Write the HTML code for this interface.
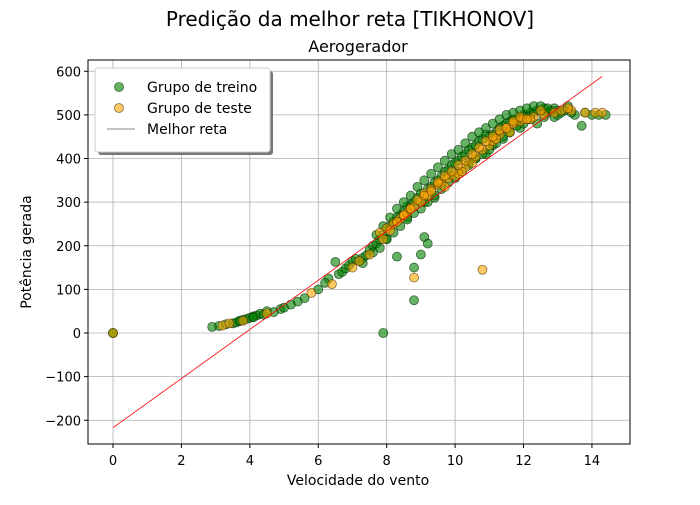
<!DOCTYPE html>
<html><head><meta charset="utf-8"><style>
body{margin:0;background:#fff}
svg{font-family:"DejaVu Sans","Liberation Sans",sans-serif}
</style></head><body>
<svg id="chart" width="700" height="500">
<rect width="700" height="500" fill="#fff"/>
<text x="350" y="26" font-size="20" text-anchor="middle">Predição da melhor reta [TIKHONOV]</text>
<text x="358" y="52" font-size="16" text-anchor="middle">Aerogerador</text>
<g id="grid"></g>
<g id="marks"></g>
<rect x="88" y="60" width="542" height="384" fill="none" stroke="#000" stroke-width="1"/>
<g id="axes"></g>
<text x="358" y="485" font-size="14" text-anchor="middle">Velocidade do vento</text>
<text transform="translate(31,252) rotate(-90)" font-size="14" text-anchor="middle">Potência gerada</text>
<g>
<rect x="98" y="71" width="175" height="84" rx="3" fill="#777"/>
<rect x="95" y="68" width="175" height="84" rx="3" fill="#fff" stroke="#ccc"/>
<circle cx="119" cy="87" r="4.5" fill="rgba(0,128,0,0.6)" stroke="rgba(0,60,0,0.7)" stroke-width="0.8"/>
<text x="147" y="92" font-size="14">Grupo de treino</text>
<circle cx="119" cy="108" r="4.5" fill="rgba(255,165,0,0.6)" stroke="rgba(90,60,0,0.7)" stroke-width="0.8"/>
<text x="147" y="113" font-size="14">Grupo de teste</text>
<line x1="107" y1="129" x2="135" y2="129" stroke="#888" stroke-width="1"/>
<text x="147" y="134" font-size="14">Melhor reta</text>
</g>
</svg>
<script>
const xTicks=[0,2,4,6,8,10,12,14];
const yTicks=[-200,-100,0,100,200,300,400,500,600];
const lineX=[0,14.3];
const lineY=[-217,588];
const trainX=[0,0,2.9,3.1,3.5,3.6,3.7,3.8,3.9,4.0,4.1,4.2,4.3,4.5,4.9,5.0,5.2,5.6,6.3,6.5,6.6,6.7,6.8,6.9,7.0,7.1,7.2,7.3,7.4,7.5,7.6,7.7,7.8,7.9,7.9,8.0,8.1,8.2,8.3,8.3,8.4,8.5,8.6,8.7,8.8,8.8,8.8,8.9,9.0,9.0,9.1,9.2,9.2,9.3,9.4,9.5,9.6,9.7,9.8,9.9,10.0,10.1,10.2,10.3,10.4,10.5,10.6,10.7,10.8,10.9,11.0,11.1,11.2,11.3,11.4,11.5,11.6,11.7,11.8,11.9,12.0,12.1,12.2,12.3,12.4,12.5,12.6,12.7,12.8,12.9,13.0,13.1,13.2,13.3,13.5,13.7,13.8,14.0,14.2,14.4,
8.6,9.1,9.6,10.1,10.6,11.1,11.6,8.0,7.6,7.3,9.4,9.9,10.4,10.9,11.4,11.9,12.4,12.9,
7.7,7.9,8.1,8.3,8.5,8.7,8.9,9.1,9.3,9.5,9.7,9.9,10.1,10.3,10.5,10.7,10.9,11.1,11.3,11.5,11.7,11.9,12.1,12.3,12.5,12.7,
7.8,8.0,8.2,8.4,8.6,8.8,9.0,9.2,9.4,9.6,9.8,10.0,10.2,10.4,10.6,10.8,11.0,11.2,11.4,11.6,11.8,12.0,12.2,12.6,13.0,13.4,
3.3,3.7,4.1,4.4,4.7,5.4,6.0,6.2];
const trainY=[0,0,14,16,22,24,27,30,32,35,38,40,44,50,55,58,65,80,125,163,135,140,148,155,165,170,165,172,178,190,200,205,215,0,225,240,245,255,175,265,270,280,290,295,75,150,300,310,180,320,220,205,330,335,345,350,360,370,375,385,390,395,405,410,420,425,430,440,445,455,450,455,460,470,475,480,485,490,490,495,500,500,505,505,510,510,515,505,510,515,510,505,510,520,500,475,505,500,500,500,265,300,340,370,400,430,460,215,185,160,310,360,390,410,445,470,480,495,
225,245,265,285,300,315,335,350,365,380,395,410,420,435,450,460,470,480,490,500,505,510,515,520,520,515,
195,215,230,245,260,275,285,300,315,330,345,355,370,385,400,410,420,435,450,460,475,480,490,495,500,505,
20,28,36,42,48,72,100,115];
const testX=[0,3.2,3.4,3.8,4.5,5.8,6.4,7.0,7.2,7.5,7.8,8.0,8.2,8.4,8.5,8.6,8.7,8.8,9.0,9.1,9.3,9.5,9.6,9.8,10.0,10.1,10.3,10.5,10.6,10.8,11.0,11.1,11.3,11.5,11.7,11.9,12.0,12.3,12.6,12.9,13.1,13.4,13.8,14.1,8.8,10.8,9.2,9.7,10.2,11.2,11.6,12.2,
7.9,8.1,8.3,8.5,8.7,8.9,9.1,9.3,9.5,9.7,9.9,10.1,10.3,10.5,10.7,10.9,11.1,11.3,11.5,11.7,11.9,12.1,12.5,13.3,14.3];
const testY=[0,17,22,28,45,92,112,150,165,180,230,240,250,262,270,275,285,290,300,320,330,340,348,355,360,365,380,390,405,420,430,440,455,470,480,485,490,495,500,505,510,510,505,505,127,145,315,335,370,445,460,490,
215,235,255,270,285,305,315,325,345,360,370,385,395,410,425,440,450,465,470,485,495,490,510,515,505];
const X0=113,XS=34.21,Y0=333,YS=0.43625;
const sx=v=>X0+v*XS, sy=v=>Y0-v*YS;
const ns="http://www.w3.org/2000/svg";
const grid=document.getElementById('grid'),axes=document.getElementById('axes'),marks=document.getElementById('marks');
function mk(tag,at,parent){const e=document.createElementNS(ns,tag);for(const k in at)e.setAttribute(k,at[k]);parent.appendChild(e);return e;}
xTicks.forEach(t=>{
 const g=mk('line',{x1:sx(t),x2:sx(t),y1:60,y2:444,stroke:'#b0b0b0','stroke-width':0.8},grid);
 
 
 mk('line',{x1:sx(t),x2:sx(t),y1:444,y2:448,stroke:'#000'},axes);
 const l=mk('text',{x:sx(t),y:465,'font-size':13,'text-anchor':'middle'},axes);l.textContent=t;
 
 
});
yTicks.forEach(t=>{
 const g=mk('line',{x1:88,x2:630,y1:sy(t),y2:sy(t),stroke:'#b0b0b0','stroke-width':0.8},grid);
 
 
 mk('line',{x1:84,x2:88,y1:sy(t),y2:sy(t),stroke:'#000'},axes);
 const l=mk('text',{x:81,y:sy(t)+5,'font-size':13,'text-anchor':'end'},axes);l.textContent=(t<0?'\u2212'+(-t):t);
 
 
});
trainX.forEach((x,i)=>{
 const c=mk('circle',{cx:sx(x),cy:sy(trainY[i]),r:4.5,fill:'rgba(0,128,0,0.6)',stroke:'rgba(0,50,0,0.7)','stroke-width':0.8},marks);
 
 
});
testX.forEach((x,i)=>{
 const c=mk('circle',{cx:sx(x),cy:sy(testY[i]),r:4.5,fill:'rgba(255,165,0,0.6)',stroke:'rgba(90,60,0,0.7)','stroke-width':0.8},marks);
 
 
});
const ln=mk('line',{x1:sx(lineX[0]),y1:sy(lineY[0]),x2:sx(lineX[1]),y2:sy(lineY[1]),stroke:'red','stroke-width':0.8},marks);


</script>
</body></html>
